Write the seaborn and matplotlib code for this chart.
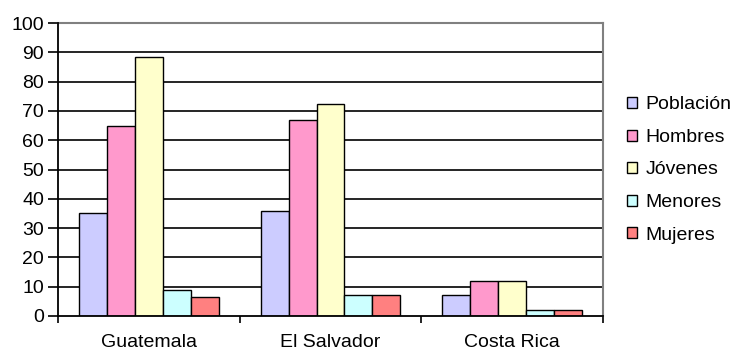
import matplotlib
matplotlib.use("Agg")
import matplotlib.pyplot as plt
from matplotlib.patches import Patch
import pandas as pd
import seaborn as sns

# Datos por país y grupo
paises = ["Guatemala", "El Salvador", "Costa Rica"]
grupos = ["Población", "Hombres", "Jóvenes", "Menores", "Mujeres"]
poblacion = [35, 36, 7]
hombres = [65, 67, 12]
jovenes = [88.5, 72.5, 12]
menores = [9, 7, 2]
mujeres = [6.5, 7, 2]
colores = ["#CCCCFF", "#FF99CC", "#FFFFCC", "#CCFFFF", "#FF8080"]
yticks = list(range(0, 101, 10))

series = [poblacion, hombres, jovenes, menores, mujeres]
df = pd.DataFrame(
    [(p, g, v) for g, vals in zip(grupos, series) for p, v in zip(paises, vals)],
    columns=["pais", "grupo", "valor"],
)

sns.set_theme(style="white")
plt.rcParams["font.family"] = ["Liberation Sans", "DejaVu Sans"]
plt.rcParams["text.color"] = "black"

fig = plt.figure(figsize=(7.34, 3.54), dpi=100)
ax = fig.add_axes([58 / 734, 38 / 354, 545 / 734, 293 / 354])

sns.barplot(
    data=df, x="pais", y="valor", hue="grupo", order=paises, hue_order=grupos,
    palette=colores, width=0.77, gap=0, edgecolor="black", linewidth=1.0,
    saturation=1, legend=False, ax=ax, zorder=3,
)

ax.set_ylim(0, 100)
ax.set_xlim(-0.5, len(paises) - 0.5)
ax.set_yticks(yticks)
ax.set_yticklabels([str(t) for t in yticks], fontsize=14, color="black")
ax.set_xticks(range(len(paises)))
ax.set_xticklabels(paises, fontsize=14, color="black")
ax.set_xticks([i - 0.5 for i in range(len(paises) + 1)], minor=True)
ax.tick_params(axis="x", which="major", length=0, pad=13)
ax.tick_params(axis="x", which="minor", length=5, width=1.2, color="black",
               direction="out", bottom=True)
ax.tick_params(axis="y", length=7, width=1.2, color="black", pad=3,
               direction="out", left=True)
ax.set_xlabel("")
ax.set_ylabel("")

# Líneas de cuadrícula horizontales
for t in yticks[1:-1]:
    ax.axhline(t, color="black", linewidth=1.2, zorder=1)

for side in ["top", "right"]:
    ax.spines[side].set_color("#808080")
    ax.spines[side].set_linewidth(1.5)
for side in ["left", "bottom"]:
    ax.spines[side].set_color("black")
    ax.spines[side].set_linewidth(1.3)
    ax.spines[side].set_zorder(4)

handles = [Patch(facecolor=c, edgecolor="black", linewidth=1.0) for c in colores]
fig.legend(
    handles, grupos, loc="center left", bbox_to_anchor=(627 / 734, (354 - 170) / 354),
    frameon=False, fontsize=14, handlelength=0.5, handleheight=0.5,
    handletextpad=0.45, labelspacing=0.8, borderpad=0, borderaxespad=0,
    labelcolor="black",
)

fig.savefig("out.png", dpi=100)
